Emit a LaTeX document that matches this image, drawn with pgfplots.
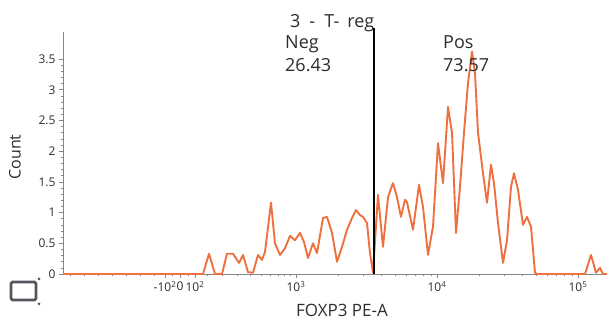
\documentclass[border=0pt]{standalone}
\usepackage{fontspec}
\setmainfont{Open Sans}
\usepackage{pgfplots}
\pgfplotsset{compat=1.18}
\definecolor{histo}{RGB}{238,112,62}
\definecolor{axgray}{RGB}{135,135,135}
\definecolor{txt}{RGB}{45,45,45}
\definecolor{icon}{RGB}{80,86,92}

\begin{document}
\begin{tikzpicture}[x=1pt,y=1pt]
\useasboundingbox (0,0) rectangle (611,326);
\begin{axis}[
  at={(63pt,52pt)}, anchor=south west,
  scale only axis, width=544pt, height=242pt,
  xmin=63, xmax=607, ymin=0, ymax=3.94,
  axis x line*=bottom, axis y line*=left,
  axis line style={axgray, line width=0.9pt},
  every tick/.style={axgray, line width=0.6pt},
  tick align=outside,
  major tick length=4pt, minor tick length=2.5pt,
  ytick={0,0.5,1,1.5,2,2.5,3,3.5},
  minor y tick num=4,
  xtick={165,180,195,296,437,578},
  xticklabels={{-10\textsuperscript{2}},{0},{10\textsuperscript{2}},{10\textsuperscript{3}},{10\textsuperscript{4}},{10\textsuperscript{5}}},
  minor xtick={70,84,98,112,126,140,154,172,188,207,222,237,250,261,270,278,284,290,338,363,381,395,406,415,423,431,479,504,522,536,547,556,564,572},
  /pgf/number format/assume math mode=true,
  tick label style={font=\fontsize{12}{14}\selectfont, text=txt},
  clip=false,
]
\addplot[histo, line width=1.9pt, line join=round] table {
x y
63 0
203 0
209 0.33
215 0
222 0
227 0.33
233 0.33
239 0.18
243 0.31
248 0.03
253 0.02
258 0.31
262 0.23
265 0.36
271 1.16
275 0.50
280 0.31
285 0.42
290 0.62
295 0.55
300 0.67
304 0.52
308 0.26
313 0.50
317 0.34
323 0.91
327 0.93
332 0.67
337 0.20
342 0.44
347 0.72
352 0.91
356 1.04
360 0.96
363 0.93
367 0.83
370 0.34
373 0.02
378 1.29
383 0.44
388 1.25
393 1.48
397 1.25
401 0.93
405 1.21
407 1.17
413 0.72
419 1.45
423 1.09
428 0.31
433 0.77
438 2.13
443 1.48
448 2.72
452 2.30
456 0.67
460 1.42
464 2.30
468 3.11
472 3.62
475 3.27
478 2.30
483 1.64
487 1.16
491 1.78
494 1.48
498 0.83
503 0.18
507 0.55
511 1.42
514 1.64
518 1.37
523 0.80
527 0.93
531 0.77
535 0.02
537 0
585 0
591 0.31
596 0.02
600 0.10
603 0
607 0
};
% gate boundary between Neg and Pos
\draw[black, line width=1.4pt] (axis cs:374,0) -- (axis cs:374,4.0);
\end{axis}

% gate name and region statistics
\begin{scope}[every node/.style={font=\fontsize{18}{20}\selectfont, text=txt, inner sep=0pt}]
  \node[anchor=base west] at (290,298) {3\hspace{9pt}-\hspace{9pt}T-\hspace{8pt}reg};
  \node[anchor=base west] at (285,277) {Neg};
  \node[anchor=base west] at (285,254) {26.43};
  \node[anchor=base west] at (443,277) {Pos};
  \node[anchor=base west] at (443,254) {73.57};
\end{scope}

% axis titles
\node[font=\fontsize{17}{19}\selectfont, text=txt, anchor=base, inner sep=0pt] at (342,9) {FOXP3 PE-A};
\node[font=\fontsize{16}{18}\selectfont, text=txt, rotate=90, inner sep=0pt] at (15,169) {Count};

% gate tool icon
\draw[icon, line width=2.6pt, rounded corners=1.5pt] (11,44) rectangle (36,26);
\fill[icon] (39,47) circle (1.5);
\fill[icon] (39,22) circle (1.5);
\end{tikzpicture}
\end{document}
